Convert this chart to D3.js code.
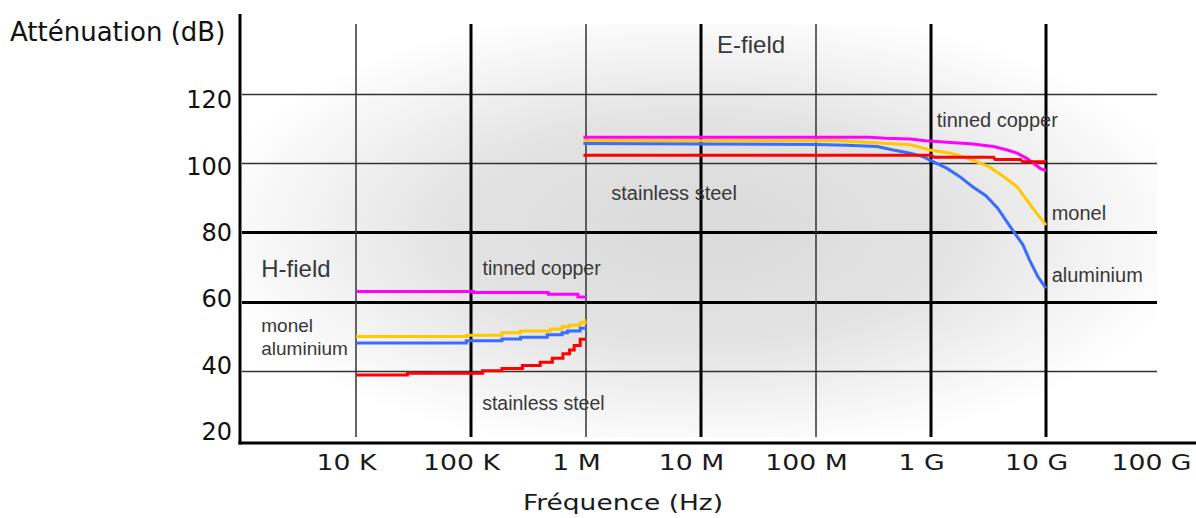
<!DOCTYPE html>
<html>
<head>
	<meta charset="utf-8">
	<title>Atténuation</title>
	<style>
		body{margin:0;background:#fff;}
		svg{display:block;}
	</style>
</head>
<body>
<svg width="1196" height="518"></svg>
<script src="https://cdn.jsdelivr.net/npm/d3@7/dist/d3.min.js"></script>
<script>

	// axes
	var freqTicks = [1e4, 1e5, 1e6, 1e7, 1e8, 1e9, 1e10, 1e11];
	var freqLabels = ["10 K", "100 K", "1 M", "10 M", "100 M", "1 G", "10 G", "100 G"];
	var freqGrid = [1e4, 1e5, 1e6, 1e7, 1e8, 1e9, 1e10];
	var freqGridMajor = [1e5, 1e7, 1e9, 1e10];
	var dbTicks = [20, 40, 60, 80, 100, 120];
	var dbGrid = [40, 60, 80, 100, 120];
	var dbGridMajor = [60, 80];

	var materials = ["tinned copper", "monel", "aluminium", "stainless steel"];

	// H-field, 10 K .. 1 M   [Hz, dB]
	var hCopper = [[1e4,62.9],[1.05e5,62.6],[4.7e5,62.1],[8.5e5,61.3],[1e6,61.3]];
	var hMonel = [[1e4,49.9],[9.2e4,50.3],[1.86e5,51.0],[2.7e5,51.5],[4.9e5,52.1],[6.2e5,52.7],[7.2e5,53.2],[8.9e5,53.9],[9.8e5,54.5],[1e6,54.5]];
	var hAlu = [[1e4,48.0],[9.1e4,48.7],[1.86e5,49.2],[2.7e5,49.7],[4.6e5,50.4],[6.2e5,51.0],[6.9e5,51.5],[8.9e5,52.3],[1e6,52.3]];
	var hSteel = [[1e4,38.8],[2.8e4,39.3],[1.26e5,40.0],[1.86e5,40.7],[2.8e5,41.5],[4e5,42.5],[5.1e5,43.6],[6.3e5,44.9],[7.2e5,46.0],[7.9e5,47.3],[8.9e5,49.1],[1e6,49.1]];

	// E-field, 1 M .. 10 G   [Hz, dB]
	var eCopper = [[9.5e5,107.5],[2.95e8,107.5],[4e8,107.2],[6.6e8,107.0],[8.9e8,106.5],[1.48e9,106.0],[2.2e9,105.6],[3.5e9,104.8],[4.6e9,103.8],[5.6e9,102.9],[6.8e9,101.4],[7.8e9,100.0],[8.9e9,98.5],[1e10,97.8]];
	var eMonel = [[9.5e5,106.5],[1.6e8,106.5],[2.95e8,106.0],[6.6e8,105.3],[9.8e8,103.8],[1.48e9,102.9],[1.9e9,101.9],[2.5e9,100.4],[3.2e9,99.0],[4.3e9,96.1],[5.6e9,93.2],[6.8e9,89.4],[8.3e9,85.5],[1e10,82.1]];
	var eAlu = [[9.5e5,105.7],[1e8,105.4],[1.86e8,105.2],[3.4e8,104.8],[4.7e8,103.8],[6.6e8,102.9],[8.5e8,101.9],[1.05e9,100.4],[1.38e9,98.5],[1.78e9,96.1],[2.3e9,93.2],[3.0e9,90.6],[3.8e9,87.0],[4.9e9,81.6],[6.3e9,76.4],[7.2e9,72.0],[8.5e9,67.2],[1e10,63.8]];
	var eSteel = [[9.5e5,102.3],[1e9,102.3],[1.07e9,101.7],[3.5e9,101.7],[3.6e9,101.1],[6e9,101.1],[6.3e9,100.4],[1e10,100.4]];

	// text labels on the plot   [text, Hz, dB, size]
	var notes = [
		["E-field", 1.38e7, 131.8, 24],
		["H-field", 1.5e3, 67.1, 24],
		["tinned copper", 1.12e9, 110.5, 20],
		["tinned copper", 1.26e5, 67.7, 19.5],
		["stainless steel", 1.66e6, 89.4, 20],
		["stainless steel", 1.25e5, 28.7, 19.5],
		["monel", 1.5e3, 51.2, 19],
		["aluminium", 1.5e3, 44.6, 19],
		["monel", 1.12e10, 83.6, 20],
		["aluminium", 1.12e10, 65.7, 20]
	];

	var series = [
		{material:"tinned copper", field:"H", values:hCopper},
		{material:"monel", field:"H", values:hMonel},
		{material:"aluminium", field:"H", values:hAlu},
		{material:"stainless steel", field:"H", values:hSteel},
		{material:"tinned copper", field:"E", values:eCopper},
		{material:"monel", field:"E", values:eMonel},
		{material:"aluminium", field:"E", values:eAlu},
		{material:"stainless steel", field:"E", values:eSteel}
	];

	var svg = d3.select("svg");
	var frame = {left:240, top:14, bottom:443, right:1196, gridLeft:242, gridRight:1157, gridTop:24, gridBottom:437};

	var x = d3.scaleLog().domain([1e3, 1e11]).range([241, 1161]);
	var y = d3.scaleLinear().domain([20, 120]).range([440, 94]);
	var yLabel = d3.scaleLinear().domain([20, 120]).range([432, 100]);

	var color = d3.scaleOrdinal()
				  .domain(materials)
				  .range(["#ff00ff", "#ffc800", "#3a6cff", "#ff0000"]);

	// shaded background
	var grad = svg.append("defs").append("radialGradient")
				  .attr("id", "bg")
				  .attr("cx", 0.5).attr("cy", 0.5).attr("r", 0.55);
	grad.append("stop").attr("offset", "0%").attr("stop-color", "#dadada");
	grad.append("stop").attr("offset", "50%").attr("stop-color", "#e3e3e3");
	grad.append("stop").attr("offset", "80%").attr("stop-color", "#f4f4f4");
	grad.append("stop").attr("offset", "100%").attr("stop-color", "#ffffff");

	svg.append("rect")
	   .attr("x", frame.gridLeft).attr("y", frame.gridTop)
	   .attr("width", frame.gridRight - frame.gridLeft)
	   .attr("height", frame.gridBottom - frame.gridTop)
	   .attr("fill", "url(#bg)");

	// grid
	svg.append("g").selectAll("line")
	   .data(dbGrid)
	   .enter().append("line")
	   .attr("x1", frame.gridLeft).attr("x2", frame.gridRight)
	   .attr("y1", function(d){ return Math.round(y(d)) + 0.5; })
	   .attr("y2", function(d){ return Math.round(y(d)) + 0.5; })
	   .attr("stroke", function(d){ return dbGridMajor.indexOf(d) >= 0 ? "#000" : "#333"; })
	   .attr("stroke-width", function(d){ return dbGridMajor.indexOf(d) >= 0 ? 3 : 1.5; });

	svg.append("g").selectAll("line")
	   .data(freqGrid)
	   .enter().append("line")
	   .attr("y1", frame.gridTop).attr("y2", frame.gridBottom)
	   .attr("x1", function(d){ return Math.round(x(d)); })
	   .attr("x2", function(d){ return Math.round(x(d)); })
	   .attr("stroke", function(d){ return freqGridMajor.indexOf(d) >= 0 ? "#000" : "#333"; })
	   .attr("stroke-width", function(d){ return freqGridMajor.indexOf(d) >= 0 ? 3 : 1.5; });

	// curves
	var lineH = d3.line().curve(d3.curveStepAfter)
				  .x(function(d){ return x(d[0]); })
				  .y(function(d){ return y(d[1]); });
	var lineE = d3.line().curve(d3.curveLinear)
				  .x(function(d){ return x(d[0]); })
				  .y(function(d){ return y(d[1]); });

	svg.append("g").selectAll("path")
	   .data(series)
	   .enter().append("path")
	   .attr("fill", "none")
	   .attr("stroke", function(d){ return color(d.material); })
	   .attr("stroke-width", 3)
	   .attr("d", function(d){ return d.field == "H" ? lineH(d.values) : lineE(d.values); });

	// notes
	svg.append("g")
	   .attr("font-family", "'Liberation Sans', Arial, sans-serif")
	   .attr("fill", "#383838")
	   .selectAll("text")
	   .data(notes)
	   .enter().append("text")
	   .attr("x", function(d){ return x(d[1]); })
	   .attr("y", function(d){ return y(d[2]); })
	   .attr("font-size", function(d){ return d[3]; })
	   .text(function(d){ return d[0]; });

	// axis lines
	svg.append("line")
	   .attr("x1", frame.left).attr("x2", frame.left)
	   .attr("y1", frame.top).attr("y2", frame.bottom + 1.5)
	   .attr("stroke", "#000").attr("stroke-width", 3);
	svg.append("line")
	   .attr("x1", frame.left - 1.5).attr("x2", frame.right)
	   .attr("y1", frame.bottom).attr("y2", frame.bottom)
	   .attr("stroke", "#000").attr("stroke-width", 3);

	// y ticks
	var gy = svg.append("g")
				.attr("transform", "translate(" + frame.left + ",0)")
				.call(d3.axisLeft(yLabel).tickValues(dbTicks).tickSize(0).tickPadding(8));
	gy.select(".domain").remove();
	gy.attr("font-family", "'DejaVu Sans', Verdana, sans-serif").attr("font-size", 24);
	gy.selectAll("text").attr("fill", "#111");

	// x ticks
	var gx = svg.append("g")
				.attr("transform", "translate(0," + frame.bottom + ")")
				.call(d3.axisBottom(x).tickValues(freqTicks)
						.tickFormat(function(d, i){ return freqLabels[i]; })
						.tickSize(0).tickPadding(12));
	gx.select(".domain").remove();
	gx.attr("font-family", "'DejaVu Sans', Verdana, sans-serif").attr("font-size", 21);
	gx.selectAll("text").attr("fill", "#1a1a1a")
	  .attr("transform", "translate(-10,0) scale(1.27,1)");

	// axis titles
	svg.append("text")
	   .attr("x", 10).attr("y", 41)
	   .attr("font-family", "'DejaVu Sans', Verdana, sans-serif")
	   .attr("font-size", 26)
	   .attr("fill", "#111")
	   .text("Atténuation (dB)");

	svg.append("text")
	   .attr("transform", "translate(623,510) scale(1.26,1)")
	   .attr("text-anchor", "middle")
	   .attr("font-family", "'DejaVu Sans', Verdana, sans-serif")
	   .attr("font-size", 21)
	   .attr("fill", "#1a1a1a")
	   .text("Fréquence (Hz)");

</script>
</body>
</html>
